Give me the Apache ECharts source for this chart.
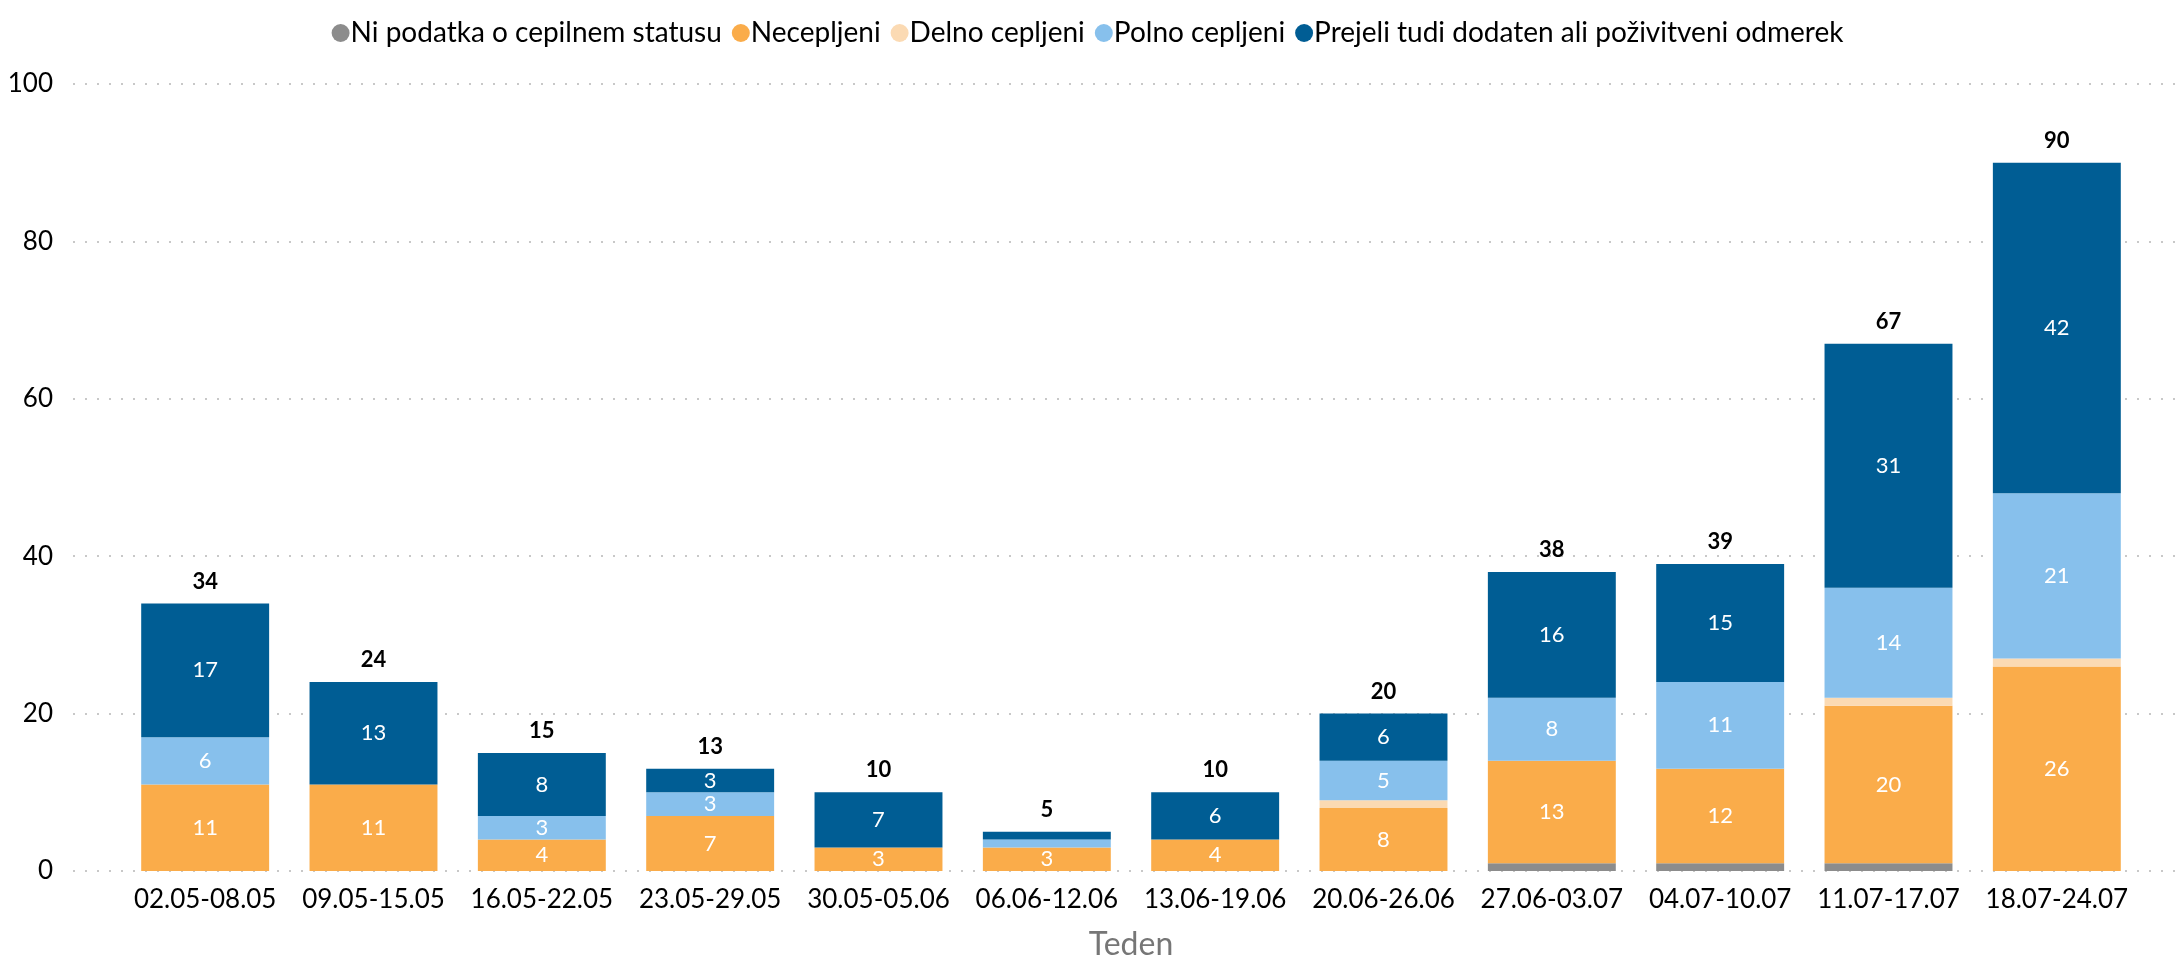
<!DOCTYPE html>
<html>
<head>
<meta charset="utf-8">
<script src="https://cdn.jsdelivr.net/npm/echarts@6/dist/echarts.min.js"></script>
<style>
  html, body { margin: 0; padding: 0; background: #fff; }
  #chart { width: 2175px; height: 956px; }
</style>
</head>
<body>
<div id="chart"></div>
<script>
var weeks = ['02.05-08.05', '09.05-15.05', '16.05-22.05', '23.05-29.05', '30.05-05.06', '06.06-12.06',
  '13.06-19.06', '20.06-26.06', '27.06-03.07', '04.07-10.07', '11.07-17.07', '18.07-24.07']
var niPodatka = [0, 0, 0, 0, 0, 0, 0, 0, 1, 1, 1, 0]
var necepljeni = [11, 11, 4, 7, 3, 3, 4, 8, 13, 12, 20, 26]
var delno = [0, 0, 0, 0, 0, 0, 0, 1, 0, 0, 1, 1]
var polno = [6, 0, 3, 3, 0, 1, 0, 5, 8, 11, 14, 21]
var dodaten = [17, 13, 8, 3, 7, 1, 6, 6, 16, 15, 31, 42]
var skupaj = [34, 24, 15, 13, 10, 5, 10, 20, 38, 39, 67, 90]
var yTicks = [0, 20, 40, 60, 80, 100]

var font = 'Lato'
var chart = echarts.init(document.getElementById('chart'))

function seg (name, data, color) {
  return {
    name: name,
    type: 'bar',
    stack: 'all',
    xAxisIndex: 1,
    yAxisIndex: 1,
    barWidth: '76%',
    itemStyle: { color: color },
    label: {
      show: true,
      position: 'inside',
      color: '#fff',
      fontFamily: font,
      fontSize: 22,
      formatter: function (p) { return p.value >= 2 ? p.value : '' }
    },
    data: data
  }
}

var option = {
  animation: false,
  textStyle: { fontFamily: font },
  legend: {
    top: 14,
    left: 'center',
    icon: 'circle',
    itemWidth: 18,
    itemHeight: 18,
    itemGap: 10,
    textStyle: { fontFamily: font, fontSize: 28, color: '#000', padding: [0, 0, 0, -4] },
    data: ['Ni podatka o cepilnem statusu', 'Necepljeni', 'Delno cepljeni', 'Polno cepljeni',
      'Prejeli tudi dodaten ali poživitveni odmerek']
  },
  grid: [
    { left: 73, right: 0, top: 84, bottom: 85, containLabel: false, outerBoundsMode: 'none' },
    { left: 121, right: 34, top: 84, bottom: 85, containLabel: false, outerBoundsMode: 'none' }
  ],
  xAxis: [
    { gridIndex: 0, type: 'value', show: false, min: 0, max: 1 },
    {
      gridIndex: 1,
      type: 'category',
      data: weeks,
      name: 'Teden',
      nameLocation: 'middle',
      nameGap: 58,
      nameTextStyle: { fontFamily: font, fontSize: 32, color: '#767676' },
      axisLine: { show: false },
      axisTick: { show: false },
      axisLabel: { fontFamily: font, fontSize: 26, color: '#000', margin: 16, interval: 0 }
    }
  ],
  yAxis: [
    {
      gridIndex: 0,
      type: 'value',
      min: yTicks[0],
      max: yTicks[yTicks.length - 1],
      interval: 20,
      axisLine: { show: false },
      axisTick: { show: false },
      axisLabel: { fontFamily: font, fontSize: 26, color: '#000', margin: 20 },
      splitLine: { lineStyle: { color: '#c8c8c8', type: [2, 10], width: 2 } }
    },
    {
      gridIndex: 1,
      type: 'value',
      min: 0,
      max: 100,
      interval: 20,
      show: false,
      splitLine: { show: false }
    }
  ],
  series: [
    {
      name: 'skupaj',
      type: 'bar',
      xAxisIndex: 1,
      yAxisIndex: 1,
      barWidth: '76%',
      barGap: '-100%',
      z: 1,
      itemStyle: { color: 'rgba(0,0,0,0)' },
      label: {
        show: true,
        position: 'top',
        distance: 11,
        color: '#000',
        fontFamily: font,
        fontWeight: 'bold',
        fontSize: 22
      },
      data: skupaj
    },
    seg('Ni podatka o cepilnem statusu', niPodatka, '#8c8c8c'),
    seg('Necepljeni', necepljeni, '#faac4a'),
    seg('Delno cepljeni', delno, '#fbdab3'),
    seg('Polno cepljeni', polno, '#87c0ec'),
    seg('Prejeli tudi dodaten ali poživitveni odmerek', dodaten, '#005d94')
  ]
}
chart.setOption(option)
</script>
</body>
</html>
